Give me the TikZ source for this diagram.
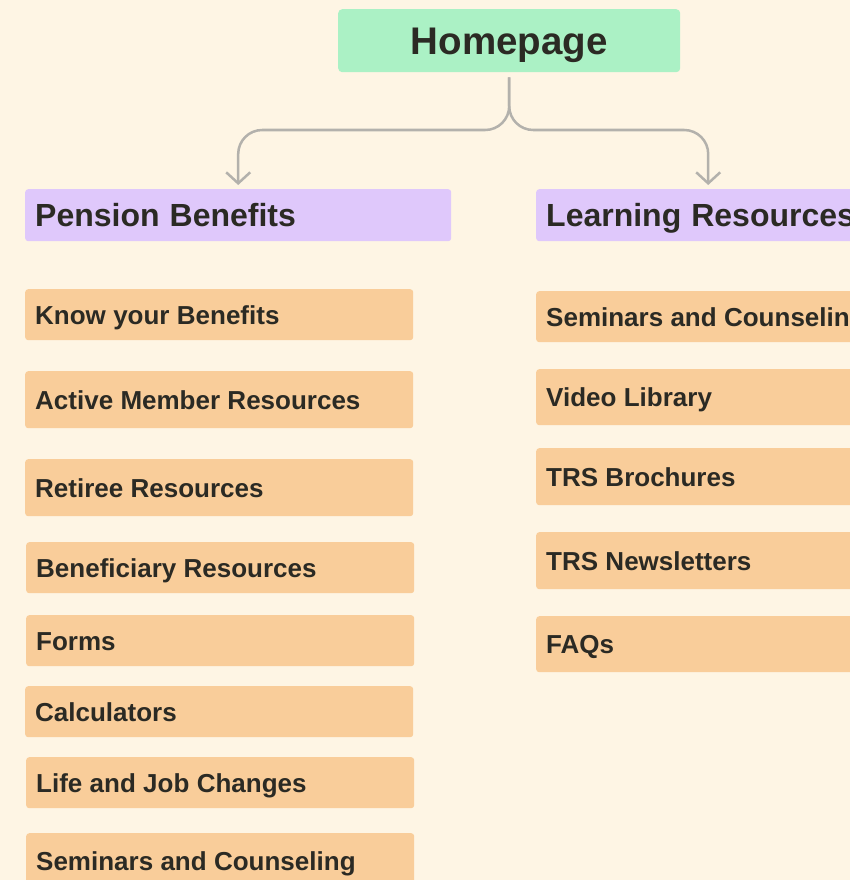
\documentclass[tikz,border=0pt]{standalone}
\usepackage{fontspec}
\setmainfont{Liberation Sans}
\usetikzlibrary{arrows.meta}
\definecolor{bgc}{HTML}{FEF5E4}
\definecolor{greenc}{HTML}{ABF1C5}
\definecolor{purplec}{HTML}{DFC8FB}
\definecolor{orangec}{HTML}{F9CD9A}
\definecolor{txtc}{HTML}{2B2A24}
\definecolor{linec}{HTML}{B3B1AC}
\tikzset{
  box/.style={anchor=north west, rounded corners=3pt, inner xsep=10pt, inner ysep=0pt,
    text depth=0pt, text=txtc, align=left},
  itembox/.style={box, fill=orangec, font=\fontsize{26}{28}\selectfont\bfseries,
    execute at begin node={\spaceskip=7.3pt plus 1pt\relax},
    text height=18.6pt, text width=368pt},
  catbox/.style={box, fill=purplec, font=\fontsize{32}{34}\selectfont\bfseries,
    execute at begin node={\spaceskip=10pt plus 1pt\relax},
    text height=23pt, minimum height=52pt},
  homebox/.style={anchor=north west, rounded corners=4pt, fill=greenc, inner sep=0pt,
    font=\fontsize{38.5}{40}\selectfont\bfseries, text=txtc, text height=27.6pt, text depth=0pt,
    minimum width=342pt, minimum height=63pt},
  conn/.style={draw=linec, line width=2.5pt, rounded corners=24pt,
    -{Straight Barb[length=11pt,width=24pt]}}
}
\begin{document}
\begin{tikzpicture}[x=1pt,y=-1pt]
\useasboundingbox (0,0) rectangle (850,880);
\fill[bgc] (0,0) rectangle (850,880);
\clip (0,0) rectangle (850,880);

\node[homebox] (home) at (338,9) {Homepage};
\node[catbox, text width=406pt] (pb) at (25,189) {Pension Benefits};
\node[catbox, text width=324pt] (lr) at (536,189) {Learning Resources};
\coordinate (mid) at (510,130);

\draw[conn] ([yshift=-5pt]home.south) |- (pb.north |- mid) -- ([yshift=4pt]pb.north);
\draw[conn] ([yshift=-5pt]home.south) |- (lr.north |- mid) -- ([yshift=4pt]lr.north);

\node[itembox, minimum height=51pt] (l1) at (25,289) {Know your Benefits};
\node[itembox, minimum height=57pt] (l2) at (25,371) {Active Member Resources};
\node[itembox, minimum height=57pt] (l3) at (25,459) {Retiree Resources};
\node[itembox, minimum height=51pt] (l4) at (26,542) {Beneficiary Resources};
\node[itembox, minimum height=51pt] (l5) at (26,615) {Forms};
\node[itembox, minimum height=51pt] (l6) at (25,686) {Calculators};
\node[itembox, minimum height=51pt] (l7) at (26,757) {Life and Job Changes};
\node[itembox, minimum height=55pt] (l8) at (26,833) {Seminars and Counseling};

\node[itembox, minimum height=51pt] (r1) at (536,291) {Seminars and Counseling};
\node[itembox, minimum height=56pt] (r2) at (536,369) {Video Library};
\node[itembox, minimum height=57pt] (r3) at (536,448) {TRS Brochures};
\node[itembox, minimum height=57pt] (r4) at (536,532) {TRS Newsletters};
\node[itembox, minimum height=56pt] (r5) at (536,616) {FAQs};
\end{tikzpicture}
\end{document}
